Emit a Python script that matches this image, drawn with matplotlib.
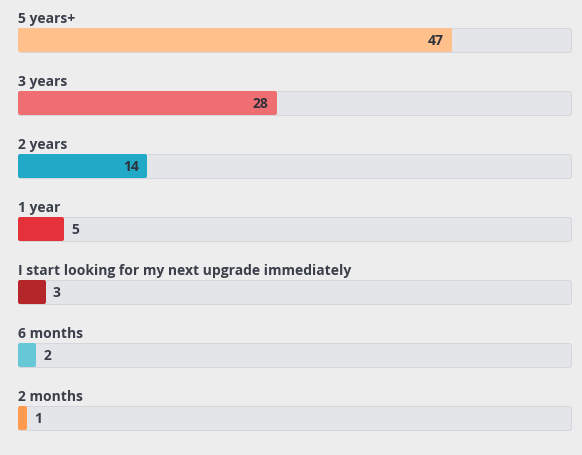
import matplotlib.pyplot as plt

# answers, top to bottom
labels = ['5 years+', '3 years', '2 years', '1 year',
          'I start looking for my next upgrade immediately', '6 months', '2 months']
values = [47, 28, 14, 5, 3, 2, 1]
colors = ['#ffc08b', '#ee6e71', '#21a9c8', '#e5323a', '#b5262b', '#66c7d7', '#ff9a4f']
x_max = 60

DPI = 100
W, H = 582, 456
px_x = 554 / x_max   # pixels per unit on x
px_y = 63            # pixels per row


def pt(px):
    return px * 72 / DPI


def main():
    plt.rcParams['font.family'] = ['Open Sans', 'DejaVu Sans']
    fig = plt.figure(figsize=(W / DPI, H / DPI), dpi=DPI, facecolor='#ededed')
    ax = fig.add_axes([18 / W, 0, 554 / W, 1])
    ax.set_facecolor('#ededed')
    ax.set_xlim(0, x_max)
    ax.set_ylim((H - 41.3) / px_y, -41.3 / px_y)
    ax.axis('off')

    rows = list(range(len(labels)))
    y_bar = [r + 0.5 / px_y for r in rows]

    # track: border layer + fill layer, rounded by thick round-joined edges
    tr_h = (25 - 6) / px_y
    tr_l = 3 / px_x
    ax.barh(y_bar, [x_max - 2 * tr_l] * len(rows), left=tr_l, height=tr_h,
            color='#d6d7db', edgecolor='#d6d7db', linewidth=pt(6), joinstyle='round')
    ax.barh(y_bar, [x_max - 2 * tr_l] * len(rows), left=tr_l, height=tr_h,
            color='#e4e5e9', edgecolor='#e4e5e9', linewidth=pt(4), joinstyle='round')

    # value bars
    b_l = 2 / px_x
    b_h = (24 - 4) / px_y
    for r, v, c in zip(rows, values, colors):
        ax.barh(r, v - 2 * b_l, left=b_l, height=b_h, color=c, edgecolor=c,
                linewidth=pt(4), joinstyle='round')

    for r, lab, v in zip(rows, labels, values):
        ax.text(0, r - 18.6 / px_y, lab, ha='left', va='baseline', fontsize=10,
                fontweight='bold', color='#3a3f4a')
        if v > 10:
            ax.annotate(str(v), (v, r), xytext=(-pt(8), 0), textcoords='offset points',
                        ha='right', va='center', fontsize=10, fontweight='bold',
                        color='#2e323a')
        else:
            ax.annotate(str(v), (v, r), xytext=(pt(7), 0), textcoords='offset points',
                        ha='left', va='center', fontsize=10, fontweight='bold',
                        color='#3a3f4a')

    fig.savefig('out.png', dpi=DPI, facecolor=fig.get_facecolor())


if __name__ == '__main__':
    main()
